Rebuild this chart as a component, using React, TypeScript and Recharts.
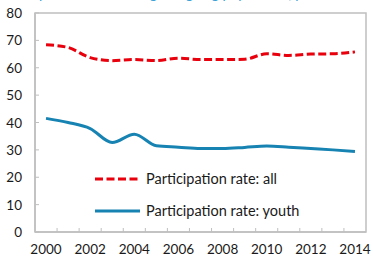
import React from "react";
import { LineChart, Line, XAxis, YAxis, Legend, ReferenceArea } from "recharts";

const years = [2000, 2001, 2002, 2003, 2004, 2005, 2006, 2007, 2008, 2009, 2010, 2011, 2012, 2013, 2014];
const rateAll = [68.4, 67.4, 63.7, 62.6, 63.0, 62.6, 63.5, 63.0, 63.0, 63.1, 65.1, 64.5, 65.0, 65.1, 65.8];
const rateYouth = [41.5, 40.0, 37.8, 32.7, 35.7, 31.5, 31.0, 30.5, 30.5, 30.9, 31.4, 31.0, 30.5, 30.0, 29.4];
const xLabelYears = [2000, 2002, 2004, 2006, 2008, 2010, 2012, 2014];
const xBoundaryTicks = [2000.5, 2001.5, 2002.5, 2003.5, 2004.5, 2005.5, 2006.5, 2007.5, 2008.5, 2009.5, 2010.5, 2011.5, 2012.5, 2013.5];
const yTicks = [0, 10, 20, 30, 40, 50, 60, 70, 80];
const seriesNames = ["Participation rate: all", "Participation rate: youth"];
const titleText = "Participation rates among an ageing population, per cent";

const data = years.map((y, i) => ({ year: y, all: rateAll[i], youth: rateYouth[i] }));

const FONT = "Lato, 'Open Sans', sans-serif";
const RED = "#e8000d";
const BLUE = "#1683b3";
const GRID = "#bfbfbf";

const XTick = (props: any) => {
  const { x, y, payload } = props;
  const v = payload.value;
  if (xBoundaryTicks.includes(v)) {
    return <line x1={x} x2={x} y1={y - 4} y2={y} stroke={GRID} strokeWidth={1} />;
  }
  if (xLabelYears.includes(v)) {
    return (
      <text x={x} y={y + 22} textAnchor="middle" fontSize={13.5} fontFamily={FONT} fill="#1a1a1a">
        {v}
      </text>
    );
  }
  return null;
};

const YTick = (props: any) => {
  const { x, y, payload } = props;
  return (
    <g>
      <line x1={x} x2={x + 4} y1={y} y2={y} stroke={GRID} strokeWidth={1} />
      <text x={x - 13} y={y + 5} textAnchor="end" fontSize={13.5} fontFamily={FONT} fill="#1a1a1a">
        {payload.value}
      </text>
    </g>
  );
};

const LegendContent = (props: any) => {
  const { payload } = props;
  return (
    <svg width={220} height={50}>
      {(payload || []).map((p: any, i: number) => (
        <g key={i}>
          <line
            x1={0}
            x2={45}
            y1={9 + i * 32}
            y2={9 + i * 32}
            stroke={p.color}
            strokeWidth={3}
            strokeDasharray={i === 0 ? "8 3.5" : undefined}
          />
          <text x={51} y={14 + i * 32} fontSize={14.5} fontFamily={FONT} fill="#1a1a1a">
            {p.value}
          </text>
        </g>
      ))}
    </svg>
  );
};

export default function App() {
  const allTicks = [...years, ...xBoundaryTicks].sort((a, b) => a - b);
  return (
    <div style={{ position: "absolute", left: 0, top: 0, width: 373, height: 259, background: "#fff" }}>
      <svg style={{ position: "absolute", left: 0, top: 0 }} width={373} height={20}>
        <text x={0} y={-1} fontSize={14} fontFamily={FONT} fill="#3aa0d6">
          {titleText}
        </text>
      </svg>
      <LineChart width={373} height={259} data={data} margin={{ top: 13, right: 7, bottom: 0, left: 0 }}>
        <ReferenceArea x1={1999.5} x2={2014.5} y1={0} y2={80} fill="none" stroke={GRID} strokeWidth={1.5} />
        <XAxis
          dataKey="year"
          type="number"
          domain={[1999.5, 2014.5]}
          ticks={allTicks}
          interval={0}
          height={27}
          tickSize={0}
          tickMargin={0}
          tickLine={false}
          axisLine={{ stroke: GRID, strokeWidth: 1.5 }}
          tick={<XTick />}
        />
        <YAxis
          domain={[0, 80]}
          ticks={yTicks}
          width={35}
          tickSize={0}
          tickMargin={0}
          tickLine={false}
          axisLine={{ stroke: GRID, strokeWidth: 1.5 }}
          tick={<YTick />}
        />
        <Legend
          layout="vertical"
          align="center"
          verticalAlign="middle"
          wrapperStyle={{ position: "absolute", left: 95, top: 170, width: 220, height: 50 }}
          content={<LegendContent />}
        />
        <Line
          type="monotone"
          dataKey="all"
          name={seriesNames[0]}
          stroke={RED}
          strokeWidth={3}
          strokeDasharray="8 3.5"
          dot={false}
          isAnimationActive={false}
        />
        <Line
          type="monotone"
          dataKey="youth"
          name={seriesNames[1]}
          stroke={BLUE}
          strokeWidth={3}
          dot={false}
          isAnimationActive={false}
        />
      </LineChart>
    </div>
  );
}
